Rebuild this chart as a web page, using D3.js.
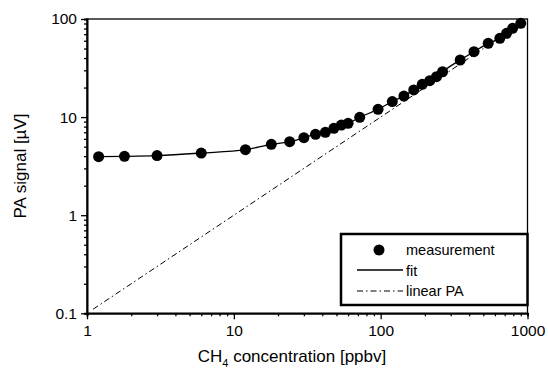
<!doctype html>
<html>
<head>
    <meta charset="UTF-8">
    <title>PA signal vs CH4</title>
    <script src="https://cdnjs.cloudflare.com/ajax/libs/d3/7.8.5/d3.min.js"></script>
    <style>
        body { margin: 0; background: #fff; }
        text { font-family: "Liberation Sans", Arial, sans-serif; fill: #000; }
    </style>
</head>
<body>
    <div id="chart"></div>

    <script>
        var width = 548,
            height = 377;

        // measured CH4 concentrations [ppbv] and PA signal [uV]
        var concentration = [1.2, 1.8, 3, 6, 12, 18, 24, 30, 36, 42, 48, 54, 60, 72, 96, 120, 144, 168, 192, 216, 240, 264, 348, 432, 540, 648, 720, 792, 900];
        var signal = [3.95, 3.98, 4.05, 4.3, 4.65, 5.28, 5.61, 6.17, 6.68, 7.0, 7.69, 8.3, 8.65, 9.95, 12.0, 14.4, 16.4, 18.9, 21.6, 23.5, 25.8, 29.0, 38.2, 46.4, 56.5, 63.5, 71.4, 80.4, 90.4];

        // fit curve passes through the measurements
        var fitX = concentration;
        var fitY = signal;

        // linear PA reference line
        var linearX = [1.1, 1000];
        var linearY = [0.11, 100];

        var xTickLabels = [1, 10, 100, 1000];
        var yTickLabels = [0.1, 1, 10, 100];

        var legendLabels = ["measurement", "fit", "linear PA"];

        var x = d3.scaleLog().domain([1, 1000]).range([87, 527.5]);
        var y = d3.scaleLog().domain([0.1, 100]).range([313.3, 19]);

        var svg = d3.select("#chart")
            .append("svg")
            .attr("width", width)
            .attr("height", height);

        function isMajor(v) {
            var l = Math.log10(v);
            return Math.abs(l - Math.round(l)) < 1e-9;
        }

        var xMinor = [], yMinor = [];
        for (var e = 0; e < 3; e++) {
            for (var m = 1; m < 10; m++) xMinor.push(m * Math.pow(10, e));
        }
        xMinor.push(1000);
        for (var e2 = -1; e2 < 2; e2++) {
            for (var m2 = 1; m2 < 10; m2++) yMinor.push(m2 * Math.pow(10, e2));
        }
        yMinor.push(100);

        // frame
        svg.append("rect")
            .attr("x", x.range()[0])
            .attr("y", y.range()[1])
            .attr("width", x.range()[1] - x.range()[0])
            .attr("height", y.range()[0] - y.range()[1])
            .style("fill", "none")
            .style("stroke", "#000")
            .style("stroke-width", 1.3);

        // bottom axis
        var xAxis = svg.append("g")
            .attr("transform", "translate(0," + y.range()[0] + ")")
            .call(d3.axisBottom(x)
                .tickValues(xMinor)
                .tickSizeOuter(0)
                .tickSize(3)
                .tickPadding(6)
                .tickFormat(function (d) { return xTickLabels.indexOf(d) >= 0 ? d : ""; }));
        xAxis.select(".domain").style("stroke-width", 2);
        xAxis.selectAll(".tick line")
            .attr("y2", function (d) { return isMajor(d) ? 6 : 3; })
            .style("stroke-width", 1.3);
        xAxis.selectAll(".tick text")
            .attr("font-size", 15.5)
            .attr("y", 12);

        // left axis
        var yAxis = svg.append("g")
            .attr("transform", "translate(" + x.range()[0] + ",0)")
            .call(d3.axisLeft(y)
                .tickValues(yMinor)
                .tickSizeOuter(0)
                .tickSize(3)
                .tickPadding(5)
                .tickFormat(function (d) { return yTickLabels.indexOf(d) >= 0 ? d : ""; }));
        yAxis.select(".domain").style("stroke-width", 2);
        yAxis.selectAll(".tick line")
            .attr("x2", function (d) { return isMajor(d) ? -6 : -3; })
            .style("stroke-width", 1.3);
        yAxis.selectAll(".tick text")
            .attr("font-size", 15.5)
            .attr("x", -10);

        svg.selectAll(".domain").style("stroke", "#000");
        svg.selectAll(".tick line").style("stroke", "#000");
        svg.selectAll(".tick text").style("fill", "#000").style("font-family", "'Liberation Sans', Arial, sans-serif");

        // axis titles
        svg.append("text")
            .attr("transform", "translate(26,166) rotate(-90)")
            .style("text-anchor", "middle")
            .attr("font-size", 17)
            .text("PA signal [\u00b5V]");

        var xt = svg.append("text")
            .attr("x", 292)
            .attr("y", 362)
            .style("text-anchor", "middle")
            .attr("font-size", 17);
        xt.append("tspan").text("CH");
        xt.append("tspan").attr("font-size", 11).attr("dy", 5).text("4");
        xt.append("tspan").attr("dy", -5).text(" concentration [ppbv]");

        // linear PA
        var line = d3.line()
            .x(function (d) { return x(d[0]); })
            .y(function (d) { return y(d[1]); });

        svg.append("path")
            .datum(d3.zip(linearX, linearY))
            .attr("d", line)
            .style("fill", "none")
            .style("stroke", "#000")
            .style("stroke-width", 1)
            .style("stroke-dasharray", "6,3,1.5,3");

        // fit
        svg.append("path")
            .datum(d3.zip(fitX, fitY))
            .attr("d", line.curve(d3.curveMonotoneX))
            .style("fill", "none")
            .style("stroke", "#000")
            .style("stroke-width", 1.3);

        // measurements
        svg.selectAll(".dot")
            .data(d3.zip(concentration, signal))
            .enter()
            .append("circle")
            .attr("class", "dot")
            .attr("cx", function (d) { return x(d[0]); })
            .attr("cy", function (d) { return y(d[1]); })
            .attr("r", 5.5)
            .style("fill", "#000");

        // legend
        var lg = svg.append("g");
        lg.append("rect")
            .attr("x", 341)
            .attr("y", 234)
            .attr("width", 186.5)
            .attr("height", 71)
            .style("fill", "#fff")
            .style("stroke", "#000")
            .style("stroke-width", 2.5);

        lg.append("circle")
            .attr("cx", 379).attr("cy", 250).attr("r", 5.5)
            .style("fill", "#000");
        lg.append("line")
            .attr("x1", 357).attr("x2", 403).attr("y1", 270).attr("y2", 270)
            .style("stroke", "#000").style("stroke-width", 1.3);
        lg.append("line")
            .attr("x1", 357).attr("x2", 403).attr("y1", 291).attr("y2", 291)
            .style("stroke", "#000").style("stroke-width", 1)
            .style("stroke-dasharray", "6,3,1.5,3");

        lg.selectAll(".legtext")
            .data(legendLabels)
            .enter()
            .append("text")
            .attr("x", 406)
            .attr("y", function (d, i) { return 255 + i * 20.5; })
            .attr("font-size", 14.5)
            .text(function (d) { return d; });
    </script>
</body>
</html>
